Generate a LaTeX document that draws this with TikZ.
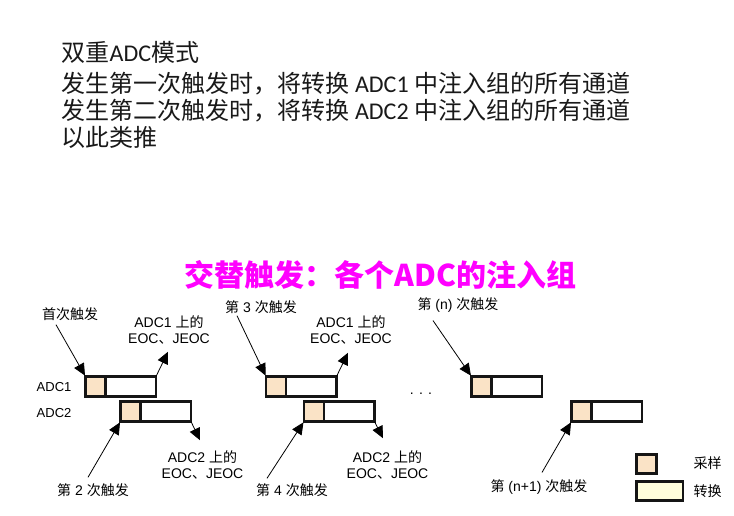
\documentclass[tikz,border=0pt]{standalone}
\usepackage{fontspec}
\usetikzlibrary{arrows.meta}
\setmainfont{Liberation Sans}
\newfontfamily\cjk{Noto Sans CJK SC}
\newfontfamily\calib{Carlito}
\definecolor{SampFill}{HTML}{FAE3C6}
\definecolor{ConvFill}{HTML}{FFFEDC}
\definecolor{TitleMagenta}{HTML}{FF00FF}
\definecolor{BoxLine}{HTML}{151515}

\begin{document}
\begin{tikzpicture}[
  x=1pt,y=-1pt,
  samp/.style={draw=BoxLine,fill=SampFill,line width=2.6pt,
    minimum width=20pt,minimum height=20pt,inner sep=0pt,outer sep=0pt},
  conv/.style={samp,fill=white,minimum width=50.5pt},
  trig/.style={-{Triangle[length=12pt,width=11pt]},line width=0.8pt,
    shorten >=1pt},
  lbl/.style={font=\fontsize{14}{16.5}\selectfont,align=center,inner sep=0pt},
  head/.style={font=\fontsize{24}{28}\selectfont,anchor=west,inner sep=0pt,
    text=black!90},
]
\useasboundingbox (0,0) rectangle (734,516);

% header text
\node[head] (h1) at (61.5,52) {\cjk 双重{\calib ADC}模式};
\node[head] (h2) at (61.5,84) {\cjk 发生第一次触发时，将转换 {\calib ADC1} 中注入组的所有通道};
\node[head] (h3) at (61.5,111) {\cjk 发生第二次触发时，将转换 {\calib ADC2} 中注入组的所有通道};
\node[head] (h4) at (61.5,137) {\cjk 以此类推};

\node[font=\fontsize{30}{34}\selectfont\cjk\bfseries,text=TitleMagenta,
  inner sep=0pt] (title) at (380.5,275) {交替触发：各个ADC的注入组};

% channel names
\node[lbl,font=\fontsize{13}{16}\selectfont,anchor=west] (n1) at (36.5,387) {ADC1};
\node[lbl,font=\fontsize{13}{16}\selectfont,anchor=west] (n2) at (36.5,413) {ADC2};

% sample + conversion slots
\node[samp,anchor=north west] (s1) at (85.5,376.5) {};
\node[conv,anchor=west] (c1) at (s1.east) {};
\node[samp,anchor=north west] (s2) at (120.5,401.5) {};
\node[conv,anchor=west] (c2) at (s2.east) {};
\node[samp,anchor=north west] (s3) at (266,376.5) {};
\node[conv,anchor=west] (c3) at (s3.east) {};
\node[samp,anchor=north west] (s4) at (304,401.5) {};
\node[conv,anchor=west] (c4) at (s4.east) {};
\node[samp,anchor=north west] (s5) at (471.5,376.5) {};
\node[conv,anchor=west] (c5) at (s5.east) {};
\node[samp,anchor=north west] (s6) at (571.5,401.5) {};
\node[conv,anchor=west] (c6) at (s6.east) {};

\node[lbl] (dots) at (421,394) {. . .};

% trigger labels
\node[lbl] (t1) at (70,314) {\cjk 首次触发};
\node[lbl] (t2) at (93,490) {{\cjk 第} 2 {\cjk 次触发}};
\node[lbl] (t3) at (261,307) {{\cjk 第} 3 {\cjk 次触发}};
\node[lbl] (t4) at (292,490) {{\cjk 第} 4 {\cjk 次触发}};
\node[lbl] (tn) at (458,305) {{\cjk 第} (n) {\cjk 次触发}};
\node[lbl] (tm) at (539,487) {{\cjk 第} (n+1) {\cjk 次触发}};

% end of conversion labels
\node[lbl] (e1) at (169,330) {ADC1 {\cjk 上的}\\EOC{\cjk 、}JEOC};
\node[lbl] (e2) at (202.5,465) {ADC2 {\cjk 上的}\\EOC{\cjk 、}JEOC};
\node[lbl] (e3) at (351,330) {ADC1 {\cjk 上的}\\EOC{\cjk 、}JEOC};
\node[lbl] (e4) at (387.5,465) {ADC2 {\cjk 上的}\\EOC{\cjk 、}JEOC};

% trigger arrows
\draw[trig] ([xshift=-14pt,yshift=-4pt]t1.south) -- (s1.north west);
\draw[trig] ([xshift=-5pt,yshift=6pt]t2.north) -- (s2.south west);
\draw[trig] ([xshift=-24pt,yshift=-2pt]t3.south) -- (s3.north west);
\draw[trig] ([xshift=-25pt,yshift=5pt]t4.north) -- (s4.south west);
\draw[trig] ([xshift=-25pt,yshift=-8pt]tn.south) -- (s5.north west);
\draw[trig] ([xshift=3pt,yshift=7pt]tm.north) -- (s6.south west);

% EOC arrows
\draw[trig,shorten >=0pt] (c1.north east) -- ([xshift=-1pt,yshift=-7pt]e1.south);
\draw[trig,shorten >=0pt] (c2.south east) -- ([xshift=-2.5pt,yshift=10pt]e2.north);
\draw[trig,shorten >=0pt] (c3.north east) -- ([xshift=-3pt,yshift=-8pt]e3.south);
\draw[trig,shorten >=0pt] (c4.south east) -- ([xshift=-4.5pt,yshift=12pt]e4.north);

% legend
\node[samp,anchor=north west,minimum height=19pt] (ls) at (636.3,454.6) {};
\node[samp,fill=ConvFill,anchor=north west,minimum width=46.7pt,
  minimum height=19pt] (lc) at (636.3,481.3) {};
\node[lbl] (lst) at (707.5,463) {\cjk 采样};
\node[lbl] (lct) at (707.5,491.5) {\cjk 转换};
\end{tikzpicture}
\end{document}
